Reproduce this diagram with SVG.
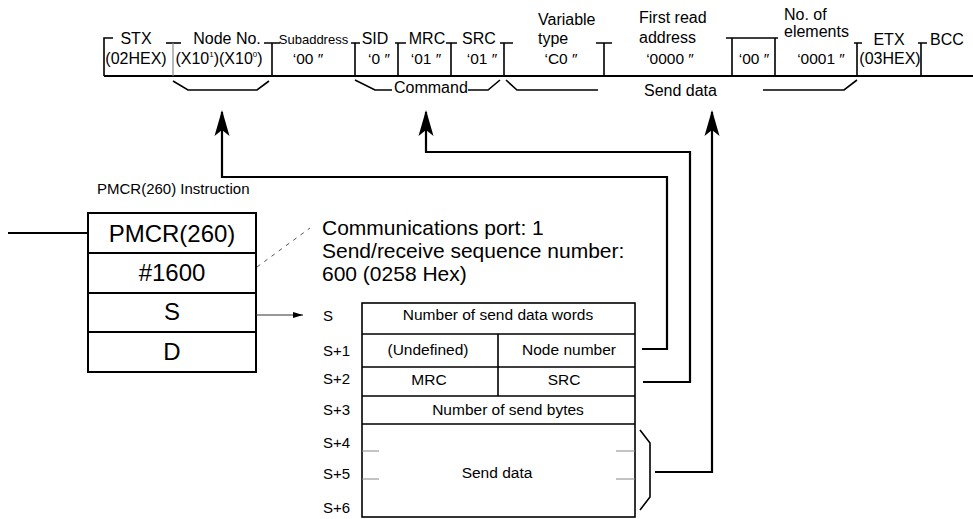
<svg xmlns="http://www.w3.org/2000/svg" width="973" height="519" viewBox="0 0 973 519">
<style>
text{font-family:"Liberation Sans",Arial,sans-serif;fill:#000}
.h{font-size:16px}
.hm{font-size:16px;text-anchor:middle}
.v{font-size:15.5px;text-anchor:middle}
.s13{font-size:13px;text-anchor:middle}
.big{font-size:24px;text-anchor:middle}
.t{font-size:15px}
.tm{font-size:15.5px;text-anchor:middle}
.note{font-size:21px}
.ln{stroke:#000;stroke-width:1.6;fill:none}
.g{stroke:#888;stroke-width:1.2;fill:none}
.b{stroke:#000;stroke-width:2;fill:none}
.conn{stroke:#000;stroke-width:2.2;fill:none}
</style>
<defs>
<marker id="ah" markerUnits="userSpaceOnUse" viewBox="0 0 26 16" refX="24" refY="8" markerWidth="26" markerHeight="16" orient="auto-start-reverse">
<path d="M0,0.5 L26,8 L0,15.5 L6,8 Z" fill="#000"/>
</marker>
<marker id="sa" markerUnits="userSpaceOnUse" viewBox="0 0 10 6" refX="10" refY="3" markerWidth="10" markerHeight="6" orient="auto">
<path d="M0,0 L10,3 L0,6 Z" fill="#000"/>
</marker>
</defs>

<g id="frame-header">
<path class="ln" d="M113,38 H104 V76"/>
<path class="b" d="M104,76 H973"/>
<path class="ln" d="M166,43 H181"/>
<path class="g" d="M173,43 V76"/>
<path class="ln" d="M264,43 H280 M272,43 V76"/>
<path class="ln" d="M351,43 H360 M355,43 V76"/>
<path class="ln" d="M395,43 H406 M398,43 V76"/>
<path class="ln" d="M446,43 H457 M451,43 V76"/>
<path class="ln" d="M500,43 H513 M504,43 V76"/>
<path class="ln" d="M596,43 H612 M604,43 V76"/>
<path class="ln" d="M726,38 H778 M732,38 V76 M775,38 V76"/>
<path class="ln" d="M854,43 H862 M857,43 V76"/>
<path class="ln" d="M918,43 H927 M921,43 V76"/>

<text class="hm" x="136" y="44">STX</text>
<text class="hm" x="227" y="44">Node No.</text>
<text class="s13" x="313.5" y="44">Subaddress</text>
<text class="hm" x="375" y="44">SID</text>
<text class="hm" x="427" y="44">MRC</text>
<text class="hm" x="479" y="44">SRC</text>
<text class="h" x="538" y="25">Variable</text>
<text class="h" x="538" y="44">type</text>
<text class="h" x="639" y="23">First read</text>
<text class="h" x="639" y="43">address</text>
<text class="h" x="784" y="20">No. of</text>
<text class="h" x="784" y="37">elements</text>
<text class="hm" x="889" y="45">ETX</text>
<text class="hm" x="947" y="45">BCC</text>

<text class="hm" x="136" y="64">(02HEX)</text>
<text class="hm" x="219" y="64">(X10<tspan font-size="8" dy="-7">1</tspan><tspan dy="7">)(X10</tspan><tspan font-size="8" dy="-7">0</tspan><tspan dy="7">)</tspan></text>
<text class="v" x="308" y="64">‘00 ″</text>
<text class="v" x="379" y="64">‘0 ″</text>
<text class="v" x="426" y="64">‘01 ″</text>
<text class="v" x="482" y="64">‘01 ″</text>
<text class="v" x="561" y="64">‘C0 ″</text>
<text class="v" x="670" y="64">‘0000 ″</text>
<text class="v" x="754" y="64">‘00 ″</text>
<text class="v" x="821" y="64">‘0001 ″</text>
<text class="hm" x="890" y="64">(03HEX)</text>

<path class="ln" d="M173,81 L188,90 H257 L269,81"/>
<path class="ln" d="M355,80 L375,90 H392"/>
<text class="h" x="394" y="93">Command</text>
<path class="ln" d="M468,90 H488 L500,80"/>
<path class="ln" d="M506,80 L517,90 H598"/>
<text class="h" x="644" y="96">Send data</text>
<path class="ln" d="M763,90 H844 L857,80"/>
</g>

<g id="pmcr-instruction">
<text class="t" x="97" y="194" font-size="15.5">PMCR(260) Instruction</text>
<path class="b" d="M8,233 H88"/>
<rect class="b" x="88" y="213" width="168" height="159"/>
<path class="b" d="M88,253 H256 M88,293 H256 M88,332 H256"/>
<text class="big" x="172" y="242">PMCR(260)</text>
<text class="big" x="172" y="281">#1600</text>
<text class="big" x="172" y="320">S</text>
<text class="big" x="172" y="360">D</text>
</g>

<g id="note">
<path d="M257,267 L310,228" stroke="#555" stroke-width="1" stroke-dasharray="4 5" fill="none"/>
<text class="note" x="322" y="235">Communications port: 1</text>
<text class="note" x="322" y="258">Send/receive sequence number:</text>
<text class="note" x="322" y="281">600 (0258 Hex)</text>
</g>

<g id="send-table">
<rect class="ln" x="362" y="303" width="273" height="214"/>
<path class="ln" d="M362,334 H635 M362,367 H635 M362,396 H635 M362,424 H635 M498,334 V396"/>
<path class="g" d="M362,451 H379 M616,451 H635 M362,479 H379 M616,479 H635"/>
<text class="t" x="323" y="321">S</text>
<text class="t" x="323" y="356">S+1</text>
<text class="t" x="323" y="384">S+2</text>
<text class="t" x="323" y="415">S+3</text>
<text class="t" x="323" y="448">S+4</text>
<text class="t" x="323" y="479">S+5</text>
<text class="t" x="323" y="513">S+6</text>
<text class="tm" x="498" y="320">Number of send data words</text>
<text class="tm" x="428" y="355">(Undefined)</text>
<text class="tm" x="569" y="355">Node number</text>
<text class="tm" x="429" y="385">MRC</text>
<text class="tm" x="564" y="385">SRC</text>
<text class="tm" x="508" y="415">Number of send bytes</text>
<text class="tm" x="497" y="478">Send data</text>
<path class="ln" d="M640,430 L650,443 V497 L640,510"/>
</g>

<g id="connectors">
<path class="conn" d="M222,112 V177 H667 V349 H642" marker-start="url(#ah)"/>
<path class="conn" d="M426,112 V152 H690 V382 H643" marker-start="url(#ah)"/>
<path class="conn" d="M712,112 V472 H655" marker-start="url(#ah)"/>
<path d="M256,315 H303" stroke="#333" stroke-width="1" fill="none" marker-end="url(#sa)"/>
</g>
</svg>
